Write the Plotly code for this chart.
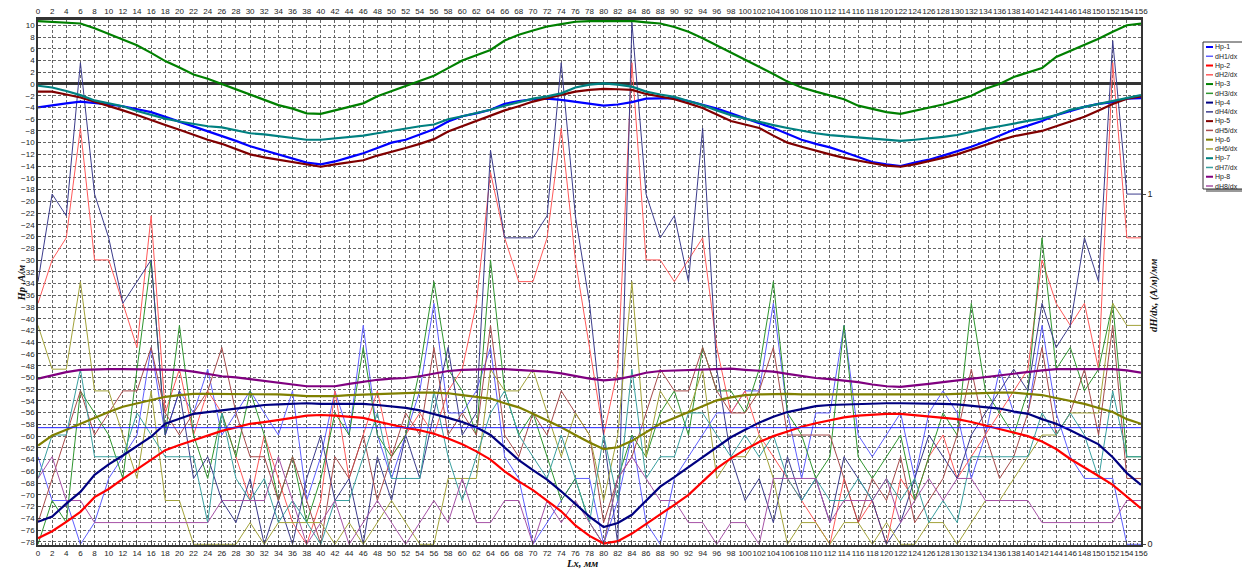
import plotly.graph_objects as go

# ---------------- data ----------------
x_mm = list(range(0, 157, 2))

hp1 = [-4.0, -3.6, -3.3, -3.0, -3.2, -3.5, -3.8, -4.3, -4.8, -5.6,
       -6.4, -7.2, -8.0, -8.9, -9.7, -10.6, -11.3, -12.0, -12.7, -13.4,
       -13.7, -13.2, -12.5, -11.8, -10.9, -10.0, -9.5, -8.6, -7.7, -6.4,
       -5.5, -5.0, -4.4, -3.4, -2.9, -2.6, -2.5, -2.7, -3.0, -3.4,
       -3.7, -3.5, -3.1, -2.5, -2.4, -2.4, -2.9, -3.5, -4.2, -5.0,
       -5.9, -6.7, -7.5, -8.5, -9.5, -10.2, -10.8, -11.6, -12.4, -13.3,
       -13.7, -14.0, -13.4, -12.9, -12.2, -11.5, -10.7, -9.8, -8.8, -7.8,
       -7.1, -6.3, -5.3, -4.6, -3.9, -3.4, -3.1, -2.5, -2.4]
hp2 = [-77.4, -76.2, -74.6, -72.9, -70.4, -69.0, -67.3, -65.7, -64.0, -62.4,
       -61.5, -60.7, -59.9, -59.1, -58.5, -57.9, -57.6, -57.3, -56.9, -56.5,
       -56.4, -56.5, -56.7, -56.9, -57.5, -58.1, -58.6, -59.0, -59.6, -60.4,
       -61.4, -62.6, -64.0, -66.0, -67.7, -69.2, -71.0, -72.8, -75.2, -77.0,
       -78.3, -77.9, -76.6, -75.0, -73.4, -71.7, -70.0, -67.7, -65.5, -63.8,
       -62.3, -61.0, -60.0, -59.2, -58.4, -57.8, -57.3, -56.8, -56.5, -56.3,
       -56.2, -56.2, -56.4, -56.7, -56.9, -57.1, -57.6, -58.2, -58.8, -59.4,
       -60.0, -60.9, -62.2, -63.9, -65.3, -66.8, -68.3, -70.3, -72.3]
hp3 = [10.7, 10.6, 10.45, 10.3, 9.5, 8.5, 7.6, 6.6, 5.3, 3.9,
       2.8, 1.6, 0.9, 0.0, -1.0, -1.9, -2.7, -3.6, -4.2, -5.0,
       -5.1, -4.5, -3.9, -3.3, -2.1, -1.2, -0.3, 0.6, 1.4, 2.7,
       4.0, 4.9, 5.8, 7.4, 8.4, 9.1, 9.8, 10.2, 10.6, 10.7,
       10.75, 10.75, 10.75, 10.5, 10.3, 9.7, 8.9, 7.8, 6.6, 5.3,
       4.2, 3.0, 1.7, 0.4, -0.6, -1.3, -1.9, -2.6, -3.7, -4.2,
       -4.8, -5.1, -4.6, -4.1, -3.5, -2.8, -2.0, -0.8, 0.0, 1.2,
       2.0, 2.7, 4.6, 5.6, 6.6, 7.7, 8.9, 10.0, 10.3]
hp4 = [-74.6, -73.7, -71.5, -69.5, -66.6, -64.8, -63.3, -61.7, -60.1, -57.9,
       -57.0, -56.2, -55.9, -55.6, -55.2, -54.9, -54.7, -54.6, -54.5, -54.4,
       -54.5, -54.5, -54.5, -54.5, -54.7, -54.9, -55.2, -55.6, -56.2, -56.9,
       -57.6, -58.5, -59.8, -62.0, -64.1, -65.8, -67.4, -69.4, -71.6, -73.7,
       -75.5, -74.8, -73.4, -71.0, -68.6, -67.0, -65.3, -63.7, -61.9, -60.2,
       -58.9, -57.7, -56.7, -55.9, -55.4, -54.9, -54.7, -54.6, -54.5, -54.4,
       -54.4, -54.4, -54.4, -54.4, -54.5, -54.6, -54.8, -55.0, -55.3, -55.8,
       -56.2, -57.1, -57.9, -59.0, -60.2, -61.4, -63.6, -66.3, -68.3]
hp5 = [-1.3, -1.3, -1.8, -2.3, -3.0, -3.7, -4.5, -5.3, -6.2, -7.0,
       -7.8, -8.7, -9.5, -10.2, -11.1, -12.0, -12.5, -12.9, -13.3, -13.8,
       -14.1, -13.7, -13.4, -13.0, -12.2, -11.6, -10.9, -10.2, -9.4, -8.1,
       -7.2, -6.4, -5.5, -4.5, -3.8, -3.0, -2.4, -1.9, -1.3, -1.0,
       -0.85, -0.9, -1.0, -1.7, -2.2, -2.6, -3.3, -4.1, -5.2, -6.3,
       -6.9, -7.5, -8.8, -10.0, -10.7, -11.4, -12.0, -12.6, -13.1, -13.5,
       -13.9, -14.1, -13.7, -13.2, -12.6, -12.0, -11.2, -10.3, -9.6, -8.9,
       -8.5, -8.0, -7.2, -6.4, -5.6, -4.5, -3.4, -2.5, -2.1]
hp6 = [-61.6, -59.9, -58.9, -57.9, -56.8, -55.9, -55.0, -54.4, -53.9, -53.3,
       -53.0, -52.8, -52.8, -52.8, -52.8, -52.8, -52.8, -52.9, -53.0, -53.2,
       -53.2, -53.2, -53.0, -52.9, -52.8, -52.7, -52.6, -52.6, -52.6, -52.7,
       -53.0, -53.3, -53.6, -54.4, -55.1, -56.2, -57.3, -58.5, -59.8, -61.1,
       -62.2, -61.9, -60.8, -59.3, -57.9, -56.9, -55.9, -54.9, -53.9, -53.4,
       -53.0, -52.9, -52.8, -52.8, -52.9, -52.9, -52.9, -53.0, -53.0, -53.0,
       -53.0, -53.0, -53.0, -53.0, -52.9, -52.8, -52.7, -52.6, -52.6, -52.6,
       -52.8, -53.0, -53.5, -54.0, -54.5, -55.2, -55.9, -57.1, -57.9]
hp7 = [-0.3, -0.6, -1.2, -1.9, -2.8, -3.3, -3.8, -4.6, -5.3, -5.9,
       -6.4, -6.8, -7.2, -7.4, -7.9, -8.4, -8.6, -8.9, -9.2, -9.5,
       -9.5, -9.3, -9.0, -8.8, -8.4, -8.0, -7.5, -7.2, -6.9, -6.0,
       -5.5, -5.0, -4.4, -3.7, -3.1, -2.5, -2.1, -1.6, -0.6, -0.1,
       0.1, -0.1, -0.45, -1.3, -1.8, -2.2, -2.9, -3.6, -4.5, -5.3,
       -5.9, -6.5, -7.0, -7.5, -8.0, -8.4, -8.7, -8.9, -9.1, -9.3,
       -9.5, -9.7, -9.5, -9.3, -9.0, -8.7, -8.1, -7.6, -7.2, -6.7,
       -6.3, -5.9, -5.3, -4.4, -3.9, -3.3, -2.9, -2.3, -1.9]
hp8 = [-50.2, -49.6, -49.1, -48.7, -48.6, -48.6, -48.6, -48.6, -48.6, -48.6,
       -48.7, -49.0, -49.4, -49.8, -50.0, -50.3, -50.6, -51.0, -51.3, -51.5,
       -51.5, -51.5, -51.1, -50.7, -50.4, -50.2, -50.1, -49.8, -49.3, -48.9,
       -48.7, -48.6, -48.6, -48.6, -48.7, -48.9, -49.0, -49.3, -49.8, -50.2,
       -50.5, -50.3, -49.8, -49.2, -48.9, -48.8, -48.7, -48.6, -48.5, -48.5,
       -48.7, -48.8, -49.0, -49.4, -49.8, -50.1, -50.3, -50.5, -50.8, -51.2,
       -51.5, -51.6, -51.4, -51.1, -50.8, -50.5, -50.2, -49.9, -49.6, -49.3,
       -49.0, -48.8, -48.6, -48.6, -48.6, -48.6, -48.6, -48.8, -49.2]

dh1 = [0.25, 0.125, 0.125, 0, 0.062, 0.188, 0.25, 0.312, 0.562, 0.312,
       0.438, 0.375, 0.5, 0.312, 0.375, 0.438, 0.375, 0.312, 0.438, 0.125,
       0.25, 0.438, 0.312, 0.625, 0.312, 0.188, 0.312, 0.438, 0.688, 0.375,
       0.375, 0.438, 0.562, 0.25, 0.188, 0, 0.062, 0.125, 0.188, 0.188,
       0, 0.125, 0.312, 0.062, 0, 0.188, 0.25, 0.312, 0.375, 0.375,
       0.438, 0.438, 0.688, 0.375, 0.188, 0.375, 0.375, 0.625, 0.312, 0.25,
       0.312, 0.375, 0.188, 0.375, 0.438, 0.375, 0.188, 0.312, 0.5, 0.375,
       0.375, 0.625, 0.375, 0.25, 0.188, 0.188, 0.188, 0, 0]
dh2 = [0.688, 0.812, 0.875, 1.188, 0.812, 0.812, 0.688, 0.562, 0.938, 0.375,
       0.5, 0.312, 0.438, 0.375, 0.25, 0.125, 0.312, 0.188, 0.062, 0,
       0.125, 0.438, 0.188, 0.312, 0.438, 0.25, 0.312, 0.375, 0.312, 0.438,
       0.5, 0.688, 1.062, 0.875, 0.75, 0.75, 0.875, 1.188, 0.812, 0.562,
       0.312, 0.5, 1.375, 0.812, 0.812, 0.75, 0.812, 0.875, 0.562, 0.375,
       0.438, 0.312, 0.25, 0.188, 0.125, 0.062, 0, 0.188, 0.062, 0.125,
       0, 0.188, 0.125, 0.25, 0.312, 0.188, 0.25, 0.312, 0.375, 0.438,
       0.5, 0.812, 0.688, 0.625, 0.688, 0.5, 1.375, 0.875, 0.875]
dh3 = [0, 0.125, 0.062, 0.438, 0.375, 0.312, 0.188, 0.5, 0.812, 0.312,
       0.625, 0.312, 0.188, 0.375, 0.25, 0.438, 0.312, 0.125, 0.25, 0.062,
       0.188, 0.375, 0.312, 0.562, 0.312, 0.25, 0.312, 0.5, 0.75, 0.5,
       0.438, 0.312, 0.812, 0.438, 0.312, 0.375, 0.25, 0.125, 0.188, 0.062,
       0, 0.188, 0.312, 0.25, 0.375, 0.438, 0.312, 0.562, 0.438, 0.438,
       0.375, 0.5, 0.75, 0.375, 0.312, 0.188, 0.25, 0.625, 0.25, 0.188,
       0.25, 0.312, 0.125, 0.25, 0.375, 0.312, 0.688, 0.438, 0.375, 0.312,
       0.438, 0.875, 0.5, 0.562, 0.438, 0.5, 0.688, 0.25, 0.25]
dh4 = [0.75, 1.0, 0.938, 1.375, 1.0, 0.875, 0.688, 0.75, 0.812, 0.312,
       0.438, 0.188, 0.25, 0.125, 0.062, 0.188, 0, 0.125, 0, 0.188,
       0.312, 0.125, 0.188, 0, 0.25, 0.125, 0.312, 0.188, 0.375, 0.562,
       0.312, 0.375, 1.125, 0.875, 0.875, 0.875, 0.938, 1.375, 0.938, 0.688,
       0.312, 0, 1.49, 1.0, 0.875, 0.938, 0.75, 1.188, 0.5, 0.25,
       0.125, 0.188, 0.062, 0.25, 0.125, 0.188, 0.062, 0.25, 0.188, 0.125,
       0, 0.062, 0.188, 0.312, 0.25, 0.188, 0.312, 0.375, 0.438, 0.5,
       0.438, 0.688, 0.562, 0.625, 0.875, 0.75, 1.438, 1.0, 1.0]
dh5 = [0.062, 0.188, 0.312, 0.438, 0.312, 0.375, 0.438, 0.438, 0.562, 0.375,
       0.312, 0.375, 0.438, 0.562, 0.375, 0.25, 0.25, 0.125, 0.25, 0.125,
       0, 0.25, 0.188, 0.312, 0.125, 0.25, 0.375, 0.312, 0.562, 0.312,
       0.375, 0.312, 0.625, 0.312, 0.25, 0.375, 0.312, 0.438, 0.375, 0.312,
       0.062, 0.188, 0.25, 0.375, 0.5, 0.438, 0.438, 0.562, 0.438, 0.375,
       0.375, 0.438, 0.562, 0.312, 0.312, 0.312, 0.312, 0.188, 0.062, 0.188,
       0.125, 0.25, 0.062, 0.125, 0.188, 0.312, 0.5, 0.312, 0.188, 0.25,
       0.375, 0.562, 0.312, 0.375, 0.5, 0.312, 0.625, 0.188, 0.188]
dh6 = [0.625, 0.5, 0.5, 0.75, 0.438, 0.438, 0.312, 0.188, 0.438, 0.125,
       0.125, 0, 0, 0, 0, 0.062, 0, 0.062, 0.062, 0.062,
       0.062, 0, 0.062, 0, 0.062, 0.125, 0.062, 0, 0, 0.188,
       0.188, 0.188, 0.5, 0.438, 0.438, 0.5, 0.375, 0.25, 0.375, 0.312,
       0.125, 0.312, 0.75, 0.25, 0.438, 0.375, 0.375, 0.5, 0.188, 0.25,
       0.25, 0.312, 0.188, 0, 0.062, 0.062, 0, 0.062, 0.062, 0,
       0.062, 0, 0, 0.062, 0.062, 0, 0.062, 0.125, 0.125, 0.188,
       0.25, 0.312, 0.312, 0.375, 0.375, 0.375, 0.688, 0.625, 0.625]
dh7 = [0.188, 0.312, 0.312, 0.5, 0.25, 0.25, 0.25, 0.375, 0.312, 0.25,
       0.25, 0.25, 0.062, 0.375, 0.188, 0.125, 0.188, 0.062, 0.125, 0.062,
       0, 0.125, 0.125, 0.25, 0.375, 0.188, 0.188, 0.188, 0.438, 0.25,
       0.125, 0.25, 0.375, 0.438, 0.312, 0.25, 0.188, 0.312, 0.188, 0.062,
       0.312, 0.125, 0.5, 0.188, 0.25, 0.25, 0.375, 0.375, 0.312, 0.25,
       0.312, 0.25, 0.312, 0.188, 0.125, 0.188, 0.125, 0.125, 0.188, 0.125,
       0.188, 0.125, 0.188, 0.062, 0.125, 0.062, 0.25, 0.25, 0.25, 0.25,
       0.25, 0.375, 0.312, 0.375, 0.312, 0.188, 0.438, 0.25, 0.25]
dh8 = [0.188, 0.25, 0.125, 0.125, 0.062, 0.062, 0.062, 0.062, 0.062, 0.062,
       0.062, 0.062, 0.062, 0.125, 0.125, 0.125, 0.125, 0.25, 0.125, 0,
       0.062, 0.125, 0, 0.062, 0.125, 0.062, 0, 0.062, 0.125, 0.062,
       0.188, 0.062, 0.062, 0.125, 0.125, 0, 0.125, 0.062, 0.125, 0.062,
       0, 0.188, 0.25, 0.188, 0.125, 0.125, 0.062, 0.062, 0, 0.062,
       0.062, 0, 0.188, 0.188, 0.188, 0.188, 0.062, 0.125, 0.125, 0.125,
       0.188, 0.062, 0.125, 0.188, 0.125, 0.188, 0.188, 0.125, 0.125, 0.125,
       0.125, 0.062, 0.062, 0.062, 0.062, 0.062, 0.062, 0.125, 0.125]

hp_names = ["Hp-1", "Hp-2", "Hp-3", "Hp-4", "Hp-5", "Hp-6", "Hp-7", "Hp-8"]
dh_names = ["dH1/dx", "dH2/dx", "dH3/dx", "dH4/dx", "dH5/dx", "dH6/dx", "dH7/dx", "dH8/dx"]
hp_colors = ["#0000ff", "#ff0000", "#008000", "#000080", "#800000", "#808000", "#008080", "#800080"]
dh_colors = ["#5f5fff", "#ff5a5a", "#2f962f", "#3c3c8c", "#a84c4c", "#a3a33a", "#3aa0a0", "#a652a6"]

THRESHOLD = 0.333          # horizontal reference level on the dH/dx axis
HP_RANGE = [-78.55, 10.9]
DH_RANGE = [-0.002, 1.497]

hp_data = [hp1, hp2, hp3, hp4, hp5, hp6, hp7, hp8]
dh_data = [dh1, dh2, dh3, dh4, dh5, dh6, dh7, dh8]

# ---------------- figure ----------------
# the html page has an 8px body margin, so the figure is laid out 8px in
OFF = 8
W, H = 1250 - OFF, 571 - OFF
PL, PR, PT, PB = 38 - OFF, 1141 - OFF, 20 - OFF, 545 - OFF

fig = go.Figure()
for name, vals, col in zip(dh_names, dh_data, dh_colors):
    fig.add_trace(go.Scatter(x=x_mm, y=vals, name=name, mode="lines",
                             line=dict(color=col, width=1), yaxis="y",
                             showlegend=False))
for name, vals, col in zip(hp_names, hp_data, hp_colors):
    fig.add_trace(go.Scatter(x=x_mm, y=vals, name=name, mode="lines",
                             line=dict(color=col, width=2.2), yaxis="y2",
                             showlegend=False))
# carrier for the top tick labels
fig.add_trace(go.Scatter(x=x_mm, y=hp3, xaxis="x2", yaxis="y2", mode="lines",
                         line=dict(width=0), opacity=0, showlegend=False,
                         hoverinfo="skip"))

tickfont = dict(family="Liberation Sans, Arial, sans-serif", size=8, color="#222")
grid = dict(showgrid=True, gridcolor="#666", gridwidth=1, griddash="3px,2px")

fig.update_layout(
    width=W, height=H,
    margin=dict(l=PL, r=W - PR, t=PT, b=H - PB, autoexpand=False),
    paper_bgcolor="white", plot_bgcolor="white",
    showlegend=False,
    xaxis=dict(range=[0, 156], dtick=2, tick0=0, tickfont=tickfont, tickangle=0,
               automargin=False,
               showline=True, linecolor="#333", linewidth=1.5,
               ticks="inside", ticklen=4, tickcolor="#444",
               minor=dict(dtick=0.5, ticks="inside", ticklen=2, tickcolor="#666", showgrid=False),
               zeroline=False, **grid),
    xaxis2=dict(range=[0, 156], dtick=2, tick0=0, tickfont=tickfont, tickangle=0,
                automargin=False,
                overlaying="x", side="top", anchor="y",
                showline=True, linecolor="#333", linewidth=2.5,
                ticks="", showgrid=False, zeroline=False),
    yaxis=dict(range=DH_RANGE, side="right", tickvals=[0, 1], ticktext=["0", "1"],
               automargin=False,
               tickfont=dict(family="Liberation Sans, Arial, sans-serif", size=9, color="#222"),
               showgrid=False, zeroline=False,
               showline=True, linecolor="#333", linewidth=1.5, ticks="outside",
               ticklen=3, tickcolor="#444"),
    yaxis2=dict(range=HP_RANGE, overlaying="y", side="left", dtick=2, tick0=0,
                automargin=False,
                tickfont=tickfont, showline=True, linecolor="#333", linewidth=1.5,
                ticks="inside", ticklen=3, tickcolor="#444",
                zeroline=True, zerolinecolor="#333", zerolinewidth=2.5, **grid),
)

fig.add_shape(type="line", xref="paper", x0=0, x1=1, yref="y", y0=THRESHOLD, y1=THRESHOLD,
              line=dict(color="#2020ff", width=1))


def px_x(page_px):
    return (page_px - OFF - PL) / (PR - PL)


def px_y(page_py):
    return (PB - (page_py - OFF)) / (PB - PT)


title_font = dict(family="Liberation Serif, Times New Roman, serif", size=10.5, color="#111")
fig.add_annotation(text="<b><i>Hp ,A/м</i></b>", xref="paper", yref="paper",
                   x=px_x(13), y=px_y(283), showarrow=False, textangle=-90, font=title_font)
fig.add_annotation(text="<b><i>dH/dx, (A/м)/мм</i></b>", xref="paper", yref="paper",
                   x=px_x(1162), y=px_y(295), showarrow=False, textangle=-90, font=title_font)
fig.add_annotation(text="<b><i>Lx, мм</i></b>", xref="paper", yref="paper",
                   x=px_x(582), y=px_y(562), yanchor="top", yshift=6, showarrow=False,
                   font=title_font)

# legend box (drawn by hand to match the compact original)
LX0, LX1, LY0, LY1 = 1203, 1243, 42, 189
fig.add_shape(type="rect", xref="paper", yref="paper",
              x0=px_x(LX0 + 3), x1=px_x(LX1 + 3), y0=px_y(LY0 + 3), y1=px_y(LY1 + 3),
              line=dict(width=0), fillcolor="#999")
fig.add_shape(type="rect", xref="paper", yref="paper",
              x0=px_x(LX0), x1=px_x(LX1), y0=px_y(LY0), y1=px_y(LY1),
              line=dict(color="#333", width=1), fillcolor="white")
legend_items = []
for i in range(8):
    legend_items.append((hp_names[i], hp_colors[i], 2))
    legend_items.append((dh_names[i], dh_colors[i], 1.5))
step = (LY1 - LY0 - 8) / 15
for i, (nm, col, wd) in enumerate(legend_items):
    yy = LY0 + 5 + i * step
    fig.add_shape(type="line", xref="paper", yref="paper",
                  x0=px_x(LX0 + 3), x1=px_x(LX0 + 10), y0=px_y(yy), y1=px_y(yy),
                  line=dict(color=col, width=wd))
    fig.add_annotation(text=nm, xref="paper", yref="paper", x=px_x(LX0 + 11), y=px_y(yy),
                       xanchor="left", yanchor="middle", showarrow=False, borderpad=0,
                       font=dict(family="Liberation Sans, Arial, sans-serif", size=7, color="#222"))

fig.write_html("out.html")
